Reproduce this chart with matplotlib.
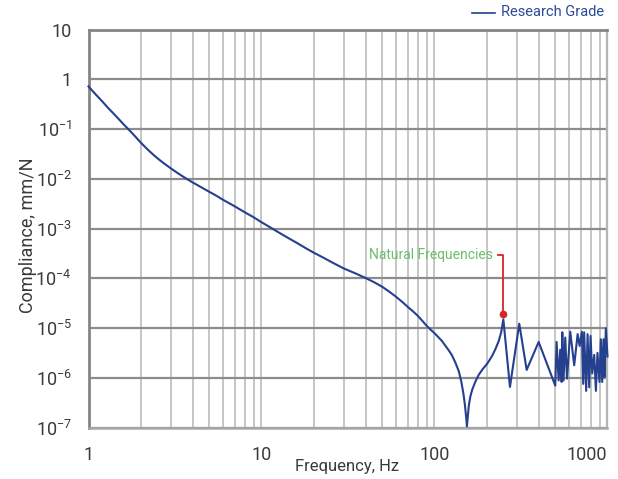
import matplotlib
matplotlib.use("Agg")
import matplotlib.pyplot as plt
import numpy as np
from matplotlib.ticker import FixedLocator, LogLocator, NullFormatter, FixedFormatter
from matplotlib.lines import Line2D

plt.rcParams['font.family'] = ['Roboto', 'DejaVu Sans']
plt.rcParams['mathtext.fontset'] = 'custom'
plt.rcParams['mathtext.rm'] = 'Roboto'

# ---- data ----
freq = [1.0, 1.1, 1.2, 1.3, 1.4, 1.5, 1.6, 1.7, 1.8, 1.9, 2.0, 2.2, 2.4, 2.6, 2.8,
        3.0, 3.3, 3.6, 4.0, 4.5, 5.0, 5.5, 6.0, 7.0, 8.0, 9.0, 10.0, 11.0, 12.5,
        14.0, 16.0, 18.0, 20.0, 23.0, 26.0, 30.0, 35.0, 40.0, 45.0, 50.0, 55.0,
        60.0, 65.0, 70.0, 75.0, 80.0, 85.0, 90.0, 95.0, 100.0, 110.0, 120.0,
        126.0, 132.0, 138.0, 143.0, 147.0, 150.0, 152.0, 154.0, 156.0, 158.0,
        161.0, 165.0, 172.0, 180.0, 190.0, 202.0, 215.0, 225.0, 235.0, 243.0,
        250.0, 273.0, 309.0, 341.0, 400.0, 499.0,
        508.0, 522.0, 533.0, 543.0, 548.0, 557.0, 570.0, 583.0, 609.0, 642.0,
        672.0, 690.0, 711.0, 724.0, 733.0, 753.0, 767.0, 784.0, 798.0, 816.0,
        838.0, 857.0, 875.0, 899.0, 915.0, 932.0, 948.0, 961.0, 978.0, 1000.0]
compliance = [0.724, 0.501, 0.363, 0.266, 0.204, 0.158, 0.124, 0.100, 0.0813, 0.0661,
              0.0543, 0.0389, 0.0295, 0.0234, 0.0193, 0.0162, 0.0129, 0.0106, 0.00851,
              0.00676, 0.00550, 0.00457, 0.00380, 0.00282, 0.00214, 0.00170, 0.00135,
              0.00111, 8.51e-4, 6.76e-4, 5.19e-4, 4.07e-4, 3.31e-4, 2.57e-4, 2.04e-4,
              1.58e-4, 1.26e-4, 1.02e-4, 8.32e-5, 6.76e-5, 5.37e-5, 4.27e-5, 3.39e-5,
              2.69e-5, 2.19e-5, 1.78e-5, 1.41e-5, 1.12e-5, 9.33e-6, 7.94e-6, 5.62e-6,
              3.72e-6, 2.88e-6, 2.04e-6, 1.38e-6, 8.32e-7, 4.79e-7, 2.82e-7, 1.78e-7,
              1.07e-7, 1.78e-7, 2.82e-7, 4.17e-7, 5.75e-7, 8.32e-7, 1.15e-6, 1.51e-6,
              1.95e-6, 2.75e-6, 3.80e-6, 5.50e-6, 8.32e-6, 1.51e-5,
              6.6e-7, 1.23e-5, 1.45e-6, 5.3e-6, 7.0e-7,
              5.3e-6, 8.9e-7, 3.7e-6, 8.3e-7, 8.3e-6, 8.9e-7, 6.5e-6, 9.7e-7, 8.5e-6, 1.8e-6,
              7.6e-6, 4.4e-6, 8.5e-6, 7.6e-7, 8.3e-6, 5.5e-7, 7.6e-6, 6.5e-7, 7.0e-6, 1.23e-6,
              2.9e-6, 5.5e-7, 3.2e-6, 8.3e-7, 6.0e-6, 8.3e-7, 6.0e-6, 1.05e-6, 1.0e-5, 2.7e-6]
series_label = "Research Grade"
annotation_text = "Natural Frequencies"
xtick_values = [1, 10, 100, 1000]
xtick_labels = ["1", "10", "100", "1000"]
ytick_values = [10, 1, 1e-1, 1e-2, 1e-3, 1e-4, 1e-5, 1e-6, 1e-7]
ytick_labels = ["10", "1", r"$\mathregular{10^{-1}}$", r"$\mathregular{10^{-2}}$",
                r"$\mathregular{10^{-3}}$", r"$\mathregular{10^{-4}}$",
                r"$\mathregular{10^{-5}}$", r"$\mathregular{10^{-6}}$",
                r"$\mathregular{10^{-7}}$"]

LINE = '#24408e'
TXT = '#3a3a3a'
W, H = 618, 479
fig = plt.figure(figsize=(W / 100, H / 100), dpi=100)
ax = fig.add_axes([88.5 / W, 1 - 427.7 / H, (607.5 - 88.5) / W, (427.7 - 29.7) / H])

ax.set_xscale('log')
ax.set_yscale('log')
ax.set_xlim(1, 1000)
ax.set_ylim(1e-7, 10)

ax.xaxis.set_major_locator(FixedLocator(xtick_values))
ax.xaxis.set_minor_locator(LogLocator(base=10, subs=np.arange(2, 10)))
ax.xaxis.set_minor_formatter(NullFormatter())
ax.xaxis.set_major_formatter(FixedFormatter(xtick_labels))
ax.yaxis.set_major_locator(FixedLocator(ytick_values))
ax.yaxis.set_minor_locator(FixedLocator([]))
ax.yaxis.set_major_formatter(FixedFormatter(ytick_labels))

ax.grid(True, which='major', axis='y', color='#8c8c8c', lw=1.6, zorder=0)
ax.grid(True, which='both', axis='x', color='#c2c2c2', lw=1.3, zorder=0)
ax.set_axisbelow(True)

for side, col, lw in [('top', '#858585', 2.0), ('left', '#858585', 2.0),
                      ('bottom', '#a8a8a8', 1.8), ('right', '#b5b5b5', 1.6)]:
    ax.spines[side].set_color(col)
    ax.spines[side].set_linewidth(lw)

ax.tick_params(axis='both', which='both', length=0)
ax.tick_params(axis='x', pad=13, labelsize=13, labelcolor=TXT)
ax.tick_params(axis='y', pad=12, labelsize=13, labelcolor=TXT)
xt = ax.get_xticklabels()
xt[-1].set_horizontalalignment('right')

ax.plot(freq, compliance, color=LINE, lw=1.5, zorder=3, clip_on=False)

fig.text(27.7 / W, 1 - 235 / H, "Compliance, mm/N", fontsize=13, color=TXT,
         rotation=90, ha='center', va='center')
fig.text(347 / W, 1 - 466 / H, "Frequency, Hz", fontsize=12, color=TXT,
         ha='center', va='center')

# annotation
fa = np.array(freq)
ca = np.array(compliance)
mask = fa > 150
pi = np.argmax(np.where(mask, ca, 0))
fp, cp = fa[pi], ca[pi]
ax.plot([fp], [cp * 1.25], 'o', color='#d9232a', ms=4.5, zorder=5)
ax.plot([fp, fp, fp * 0.935], [cp * 1.25, 2.95e-4, 2.95e-4], color='#d9232a', lw=1.3, zorder=4)
ax.text(fp * 0.87, 2.95e-4, annotation_text, color='#6cbf6a', fontsize=10,
        ha='right', va='center', zorder=5)

# legend
fig.add_artist(Line2D([472 / W, 495 / W], [1 - 12.5 / H, 1 - 12.5 / H], color=LINE, lw=1.2))
fig.text(501 / W, 1 - 12.5 / H, series_label, color='#2b4a9b', fontsize=10.5,
         ha='left', va='center')

fig.savefig('out.png', dpi=100)
